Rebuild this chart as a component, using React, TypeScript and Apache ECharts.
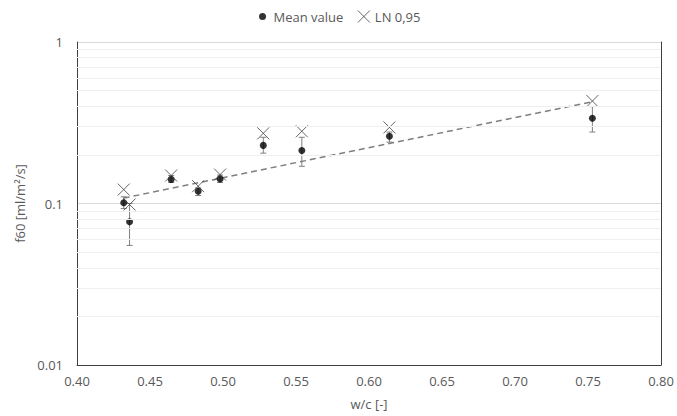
import React, { useEffect, useRef } from "react";
import * as echarts from "echarts";

const wc = [0.432, 0.436, 0.4645, 0.483, 0.498, 0.5276, 0.554, 0.614, 0.753];
const meanValue = [0.101, 0.077, 0.141, 0.119, 0.142, 0.229, 0.213, 0.261, 0.337];
const errLow = [0.093, 0.055, 0.135, 0.112, 0.135, 0.205, 0.17, 0.24, 0.277];
const errHigh = [0.11, 0.1, 0.149, 0.125, 0.15, 0.257, 0.257, 0.277, 0.398];
const ln095 = [0.122, 0.0986, 0.149, 0.128, 0.151, 0.272, 0.28, 0.296, 0.431];
const trendX = [0.432, 0.753];
const trendY = [0.108, 0.427];
const minorGrid = [0.02, 0.03, 0.04, 0.05, 0.06, 0.07, 0.08, 0.09, 0.2, 0.3, 0.4, 0.5, 0.6, 0.7, 0.8, 0.9];

const FONT = "Open Sans";
const TXT = "#595959";
const AXIS = "#404040";
const CROSS = "path://M0,0L10,10M10,0L0,10";
const DOT_ICON = "path://M0,0L0,0M12,12L12,12M6,2.5A3.5,3.5,0,1,1,6,9.5A3.5,3.5,0,1,1,6,2.5Z";

export default function App() {
  const ref = useRef<HTMLDivElement>(null);
  useEffect(() => {
    if (!ref.current) return;
    const chart = echarts.init(ref.current, undefined, { renderer: "svg" });
    chart.setOption({
      animation: false,
      backgroundColor: "#ffffff",
      textStyle: { fontFamily: FONT },
      legend: {
        top: 5,
        left: "center",
        itemWidth: 12,
        itemHeight: 12,
        itemGap: 14,
        textStyle: { color: TXT, fontSize: 13, fontFamily: FONT },
        data: [
          { name: "Mean value", icon: DOT_ICON, itemStyle: { color: "#000000", borderWidth: 0 } },
          { name: "LN 0,95", icon: CROSS, itemStyle: { color: "transparent", borderColor: AXIS, borderWidth: 1 } },
        ],
      },
      grid: { left: 77, right: 16, top: 42, bottom: 51, containLabel: false },
      xAxis: {
        type: "value",
        min: 0.4,
        max: 0.8,
        interval: 0.05,
        name: "w/c [-]",
        nameLocation: "middle",
        nameGap: 32,
        nameTextStyle: { color: TXT, fontSize: 13, fontFamily: FONT },
        axisLine: { show: true, lineStyle: { color: AXIS, width: 1 } },
        axisTick: { show: false },
        axisLabel: { color: TXT, fontSize: 13, margin: 9, formatter: (v: number) => v.toFixed(2) },
        splitLine: { show: false },
      },
      yAxis: [
        {
          type: "log",
          logBase: 10,
          min: 0.01,
          max: 1,
          name: "f60 [ml/m²/s]",
          nameLocation: "middle",
          nameGap: 46,
          nameTextStyle: { color: TXT, fontSize: 13, fontFamily: FONT },
          axisLine: { show: true, lineStyle: { color: AXIS, width: 1 } },
          axisTick: { show: false },
          axisLabel: { color: TXT, fontSize: 13, margin: 14, formatter: (v: number) => String(+v.toPrecision(3)) },
          splitLine: { show: true, lineStyle: { color: "#d9d9d9", width: 1 } },
        },
        {
          type: "value",
          min: 0,
          max: 1,
          position: "right",
          axisLine: { show: true, lineStyle: { color: AXIS, width: 1 } },
          axisTick: { show: false },
          axisLabel: { show: false },
          splitLine: { show: false },
        },
      ],
      series: [
        {
          name: "grid-minor",
          type: "line",
          data: [],
          z: 0,
          silent: true,
          markLine: {
            silent: true,
            symbol: ["none", "none"],
            label: { show: false },
            lineStyle: { color: "#efefef", width: 1, type: "solid" },
            data: minorGrid.map((v) => ({ yAxis: v })),
          },
        },
        {
          name: "trend",
          type: "line",
          data: trendX.map((x, i) => [x, trendY[i]]),
          symbol: "none",
          lineStyle: { color: "#7f7f7f", width: 1.5, type: [6, 4] },
          z: 1,
          silent: true,
        },
        {
          name: "errors",
          type: "custom",
          z: 2,
          silent: true,
          data: wc.map((x, i) => [x, errLow[i], errHigh[i]]),
          encode: { x: 0, y: [1, 2] },
          renderItem: (params: any, api: any) => {
            const x = api.value(0);
            const lo = api.coord([x, api.value(1)]);
            const hi = api.coord([x, api.value(2)]);
            const w = 3;
            const style = { stroke: "#7f7f7f", lineWidth: 1 };
            return {
              type: "group",
              children: [
                { type: "line", shape: { x1: lo[0], y1: lo[1], x2: hi[0], y2: hi[1] }, style },
                { type: "line", shape: { x1: lo[0] - w, y1: lo[1], x2: lo[0] + w, y2: lo[1] }, style },
                { type: "line", shape: { x1: hi[0] - w, y1: hi[1], x2: hi[0] + w, y2: hi[1] }, style },
              ],
            };
          },
        },
        {
          name: "Mean value",
          type: "scatter",
          z: 3,
          symbol: "circle",
          symbolSize: 7,
          itemStyle: { color: "#000000" },
          data: wc.map((x, i) => [x, meanValue[i]]),
        },
        {
          name: "LN 0,95",
          type: "scatter",
          z: 4,
          symbol: CROSS,
          symbolSize: 12,
          itemStyle: { color: "transparent", borderColor: AXIS, borderWidth: 1 },
          data: wc.map((x, i) => [x, ln095[i]]),
        },
      ],
    });
    return () => chart.dispose();
  }, []);
  return <div ref={ref} style={{ width: 677, height: 416, position: "absolute", left: 0, top: 0 }} />;
}
